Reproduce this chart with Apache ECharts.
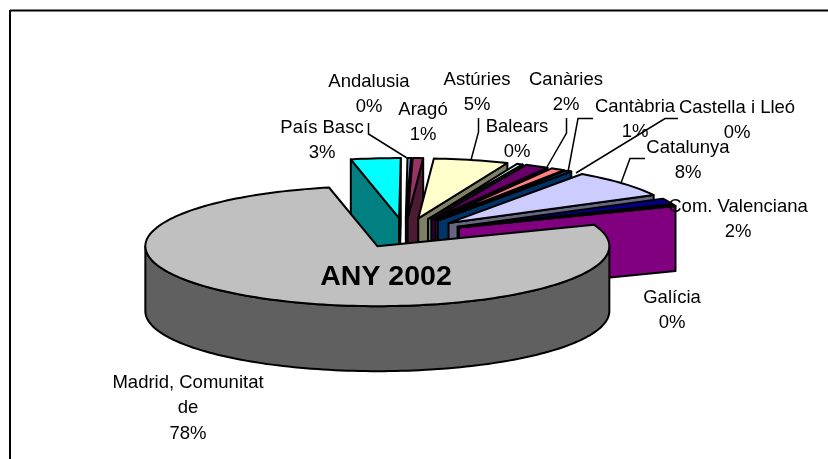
<!DOCTYPE html>
<html>
<head>
<meta charset="utf-8">
<style>html,body{margin:0;padding:0;background:#fff}#c{width:828px;height:459px}</style>
<script src="https://cdn.jsdelivr.net/npm/echarts@6/dist/echarts.min.js"></script>
</head>
<body>
<div id="c"></div>
<script>
// ---- data ----
const chartTitle = 'ANY 2002';
const categories = ['Andalusia','Aragó','Astúries','Balears','Canàries','Cantàbria','Castella i Lleó','Catalunya','Com. Valenciana','Galícia','Madrid, Comunitat\nde','País Basc'];
const shares = [0.24,0.72,5.2,0.42,1.65,1.0,0.42,7.5,1.6,0.3,77.5,3.45];
const topColors = ['#9999FF','#993366','#FFFFCC','#CCFFFF','#660066','#FF8080','#0066CC','#CCCCFF','#000080','#FF00FF','#C0C0C0','#00FFFF'];
const wallColors = ['#4D4D80','#4D1A33','#808066','#668080','#330033','#804040','#003366','#666680','#000040','#800080','#606060','#008080'];

// ---- projection and layout ----
const firstAngle = 0.4;      // degrees clockwise from the top
const explode = 0.25;        // in radii
const depth = 1.083;         // in y units
const total = shares.reduce((a, b) => a + b, 0);
const labelAnchors = [[369,69],[423,97],[477,67],[517,114],[566,67],[635,94],[737,95],[688,135],[738,194],[672,285],[188,370],[322,115]];
const leaders = [
  [[368.5,123],[368.5,134],[407,158]],
  [[478.5,118],[478.5,132],[471,160]],
  [[566.5,118],[566.5,133],[547,167]],
  [[593,118.5],[578,118.5],[568,172]],
  [[678,118.5],[665,118.5],[576,173]],
  [[645,158.5],[630,158.5],[621,183]]
];
const rad = d => d * Math.PI / 180;

function renderSlice(params, api) {
  const i = api.value(0);
  let cum = 0;
  for (let k = 0; k < i; k++) cum += shares[k];
  const a0 = firstAngle + cum / total * 360;
  const a1 = a0 + api.value(1) / total * 360;
  const mid = rad((a0 + a1) / 2);
  const cx = explode * Math.sin(mid), cy = explode * Math.cos(mid);
  const P = (a, drop) => api.coord([cx + Math.sin(rad(a)), cy + Math.cos(rad(a)) - (drop || 0)]);
  const A = drop => api.coord([cx, cy - (drop || 0)]);
  const arc = (from, to, drop) => {
    const n = Math.max(1, Math.ceil(Math.abs(to - from) / 1.5)), pts = [];
    for (let k = 0; k <= n; k++) pts.push(P(from + (to - from) * k / n, drop));
    return pts;
  };
  const z = i === shares.length - 1 ? 0 : i + 1;
  const stroke = { stroke: '#000', lineWidth: 2, lineJoin: 'round' };
  const face = (pts, fill, zz) => ({ type: 'polygon', z2: zz, shape: { points: pts }, style: Object.assign({ fill }, stroke) });
  const children = [];
  const norm = a => ((a % 360) + 360) % 360;
  const wall = wallColors[i];
  if (norm(a0) > 180) children.push(face([A(), P(a0), P(a0, depth), A(depth)], wall, z * 3));
  if (norm(a1) < 180) children.push(face([A(), P(a1), P(a1, depth), A(depth)], wall, z * 3));
  const from = Math.max(a0, 90), to = Math.min(a1, 270);
  if (to > from) children.push(face(arc(from, to, 0).concat(arc(to, from, depth)), wall, z * 3 + 1));
  children.push(face([A()].concat(arc(a0, a1, 0)), topColors[i], z * 3 + 2));
  return { type: 'group', children };
}

const labelFont = '18.5px "Liberation Sans", Arial, sans-serif';
const graphics = [{
  type: 'line', z: 1, shape: { x1: 10, y1: 10.5, x2: 828, y2: 10.5 }, style: { stroke: '#000', lineWidth: 2 }
}, {
  type: 'line', z: 1, shape: { x1: 10, y1: 10, x2: 10, y2: 459 }, style: { stroke: '#000', lineWidth: 2 }
}];
leaders.forEach(pts => graphics.push({ type: 'polyline', z: 5, shape: { points: pts }, style: { stroke: '#000', lineWidth: 1.5, fill: null } }));
categories.forEach((name, i) => graphics.push({
  type: 'text', z: 6, x: labelAnchors[i][0], y: labelAnchors[i][1],
  style: { text: name + '\n' + Math.round(shares[i]) + '%', font: labelFont, fill: '#000', textAlign: 'center', textVerticalAlign: 'top', lineHeight: 25.6 }
}));
graphics.push({
  type: 'text', z: 6, x: 386, y: 277,
  style: { text: chartTitle, font: 'bold 28.5px "Liberation Sans", Arial, sans-serif', fill: '#000', textAlign: 'center', textVerticalAlign: 'middle' }
});

const chart = echarts.init(document.getElementById('c'), null, { renderer: 'canvas' });
chart.setOption({
  animation: false,
  backgroundColor: '#fff',
  grid: { left: 57, width: 696, top: 113, height: 240 },
  xAxis: { type: 'value', min: -1.5, max: 1.5, show: false },
  yAxis: { type: 'value', min: -2, max: 2, show: false },
  graphic: graphics,
  series: [{
    type: 'custom',
    name: chartTitle,
    renderItem: renderSlice,
    clip: false,
    silent: true,
    encode: { x: 0, y: 1 },
    data: shares.map((v, i) => [i, v])
  }]
});
</script>
</body>
</html>
